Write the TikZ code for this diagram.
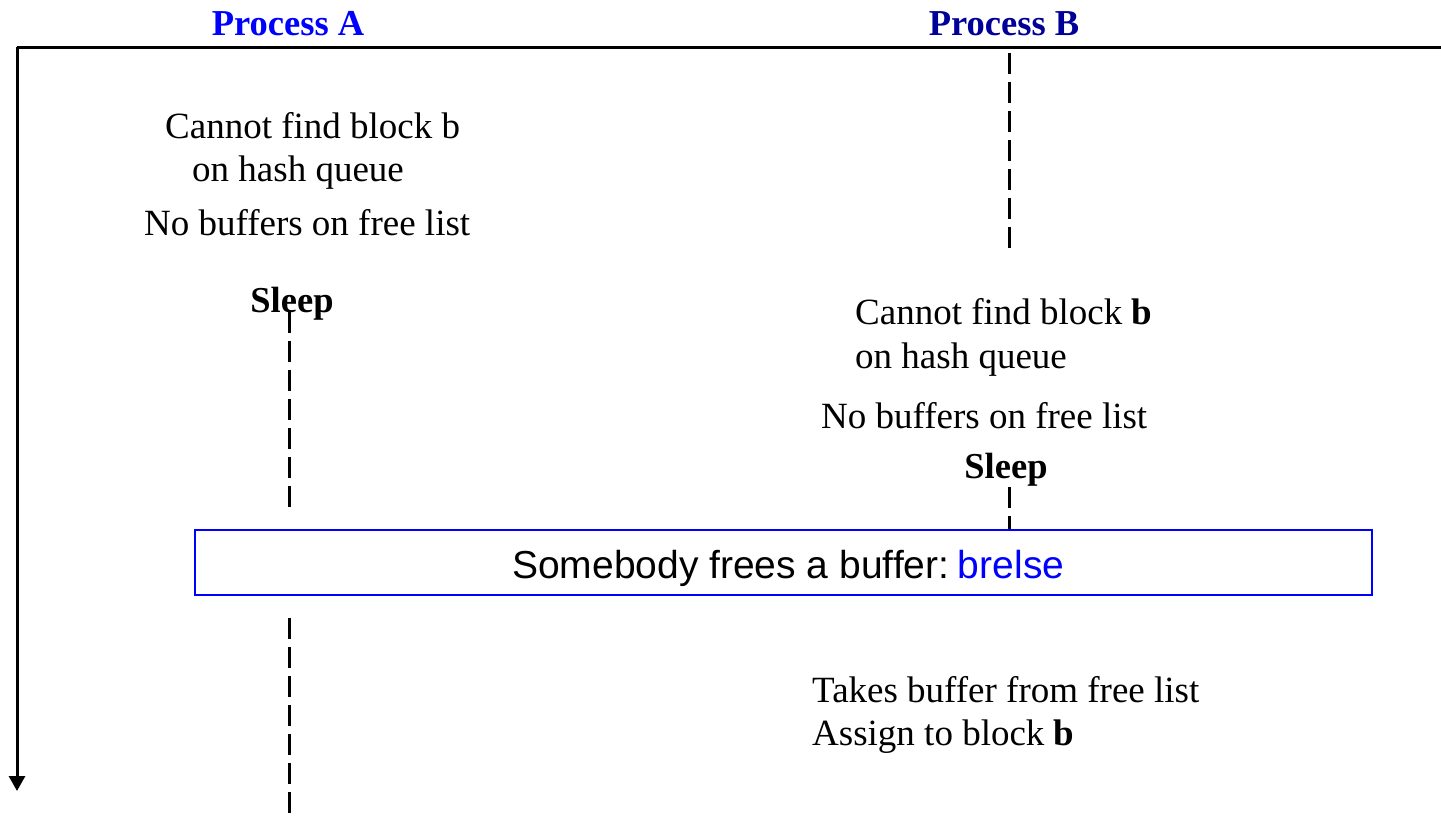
\documentclass[tikz,border=0pt]{standalone}
\usepackage{fontspec}
\setmainfont{Liberation Serif}
\setsansfont{Liberation Sans}
\usetikzlibrary{arrows.meta}
\definecolor{procA}{RGB}{0,0,255}
\definecolor{procB}{RGB}{0,0,153}
\definecolor{boxblue}{RGB}{0,0,255}
\begin{document}
\begin{tikzpicture}[x=1pt,y=-1pt,
  txt/.style={inner sep=0pt,anchor=base west,font=\fontsize{37}{41}\selectfont},
  head/.style={inner sep=0pt,anchor=base,font=\fontsize{36.5}{40}\selectfont\bfseries},
  waitline/.style={line width=3pt,dash pattern=on 21pt off 8pt},
  axis/.style={line width=3pt},
  eventbox/.style={draw=boxblue,line width=2pt,minimum width=1177pt,minimum height=65pt,inner sep=0pt}]
\useasboundingbox (0,0) rectangle (1441,815);

% process headings
\node[head,text=procA] (pa) at (288,35) {Process A};
\node[head,text=procB] (pb) at (1004,35) {Process B};

% time axes
\coordinate (o) at (17,47);
\coordinate (right) at (1441,47);
\coordinate (tend) at (17,791);
\draw[axis] (right) -- (o);
\draw[axis,-{Triangle[length=15pt,width=16pt]}] (o) -- (tend);

% process A
\node[txt] (a1) at (165,138) {Cannot find block b};
\node[txt] (a2) at (192,181) {on hash queue};
\node[txt] (a3) at (144,235) {No buffers on free list};
\node[head] (sa) at (292,312) {Sleep};

% process B
\node[txt] (b1) at (855,324) {Cannot find block \textbf{b}};
\node[txt] (b2) at (855,368) {on hash queue};
\node[txt] (b3) at (821,428) {No buffers on free list};
\node[head] (sb) at (1006,478) {Sleep};
\node[txt] (b4) at (812,702) {Takes buffer from free list};
\node[txt] (b5) at (812,745) {Assign to block \textbf{b}};

% wake-up event
\node[eventbox] (ev) at (783.5,562.5) {};
\node[inner sep=0pt,anchor=base west,font=\sffamily\fontsize{39}{43}\selectfont] (evt) at (512,578)
  {Somebody frees a buffer:\hspace{0.22em}\textcolor{boxblue}{brelse}};

% waiting periods
\coordinate (a1s) at (289,312);
\coordinate (a1e) at (289,507);
\coordinate (a2s) at (289,618);
\coordinate (a2e) at (289,815);
\coordinate (b1s) at (1009,53);
\coordinate (b1e) at (1009,250);
\coordinate (b2s) at (1009,487);
\draw[waitline] (a1s) -- (a1e);
\draw[waitline] (a2s) -- (a2e);
\draw[waitline] (b1s) -- (b1e);
\draw[waitline] (b2s) -- (b2s |- ev.north);
\end{tikzpicture}
\end{document}
